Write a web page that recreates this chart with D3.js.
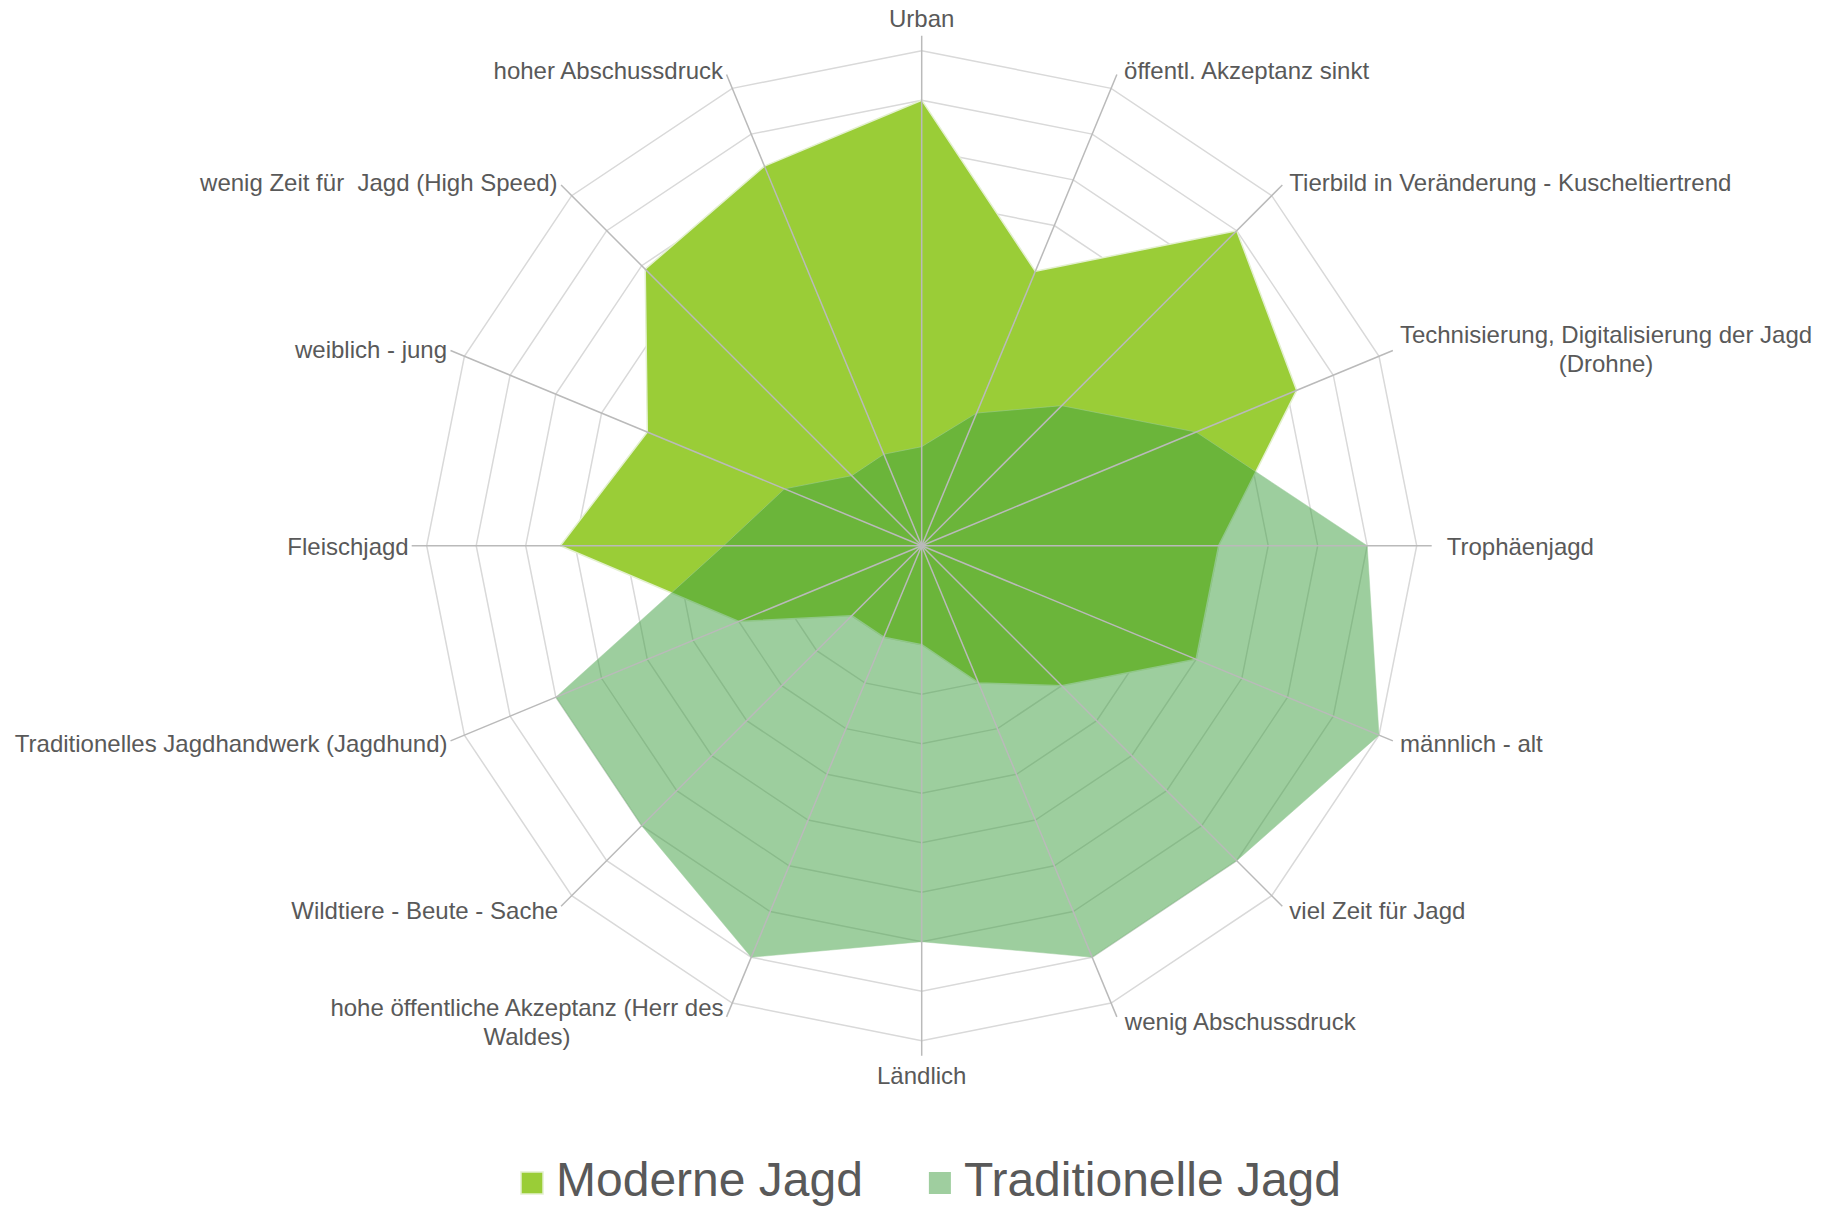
<!doctype html>
<html lang="de">
<head>
  <meta charset="utf-8">
  <title>Moderne vs. Traditionelle Jagd</title>
</head>
<style>
html, body, svg {
    margin: 0;
    padding: 0;
    border: 0;
    background: #fff;
}
text {
    font-family: "Liberation Sans", Arial, sans-serif;
    fill: #595959;
    white-space: pre;
}
</style>
<body>
  <svg></svg>
</body>
<script src="https://d3js.org/d3.v7.min.js"></script>
<script type="text/javascript">
    // axes, clockwise from the top
    var categories = [
      "Urban",
      "öffentl. Akzeptanz sinkt",
      "Tierbild in Veränderung - Kuscheltiertrend",
      "Technisierung, Digitalisierung der Jagd\n(Drohne)",
      "Trophäenjagd",
      "männlich - alt",
      "viel Zeit für Jagd",
      "wenig Abschussdruck",
      "Ländlich",
      "hohe öffentliche Akzeptanz (Herr des\nWaldes)",
      "Wildtiere - Beute - Sache",
      "Traditionelles Jagdhandwerk (Jagdhund)",
      "Fleischjagd",
      "weiblich - jung",
      "wenig Zeit für  Jagd (High Speed)",
      "hoher Abschussdruck"
    ];

    var moderne = [9, 6, 9, 8.2, 6, 6, 4, 3, 2, 2, 2, 4, 7.3, 6, 7.9, 8.3];
    var traditionelle = [2, 2.9, 4, 6, 9, 10, 9, 9, 8, 9, 8, 8, 4, 3, 2, 2];

    var seriesNames = ["Moderne Jagd", "Traditionelle Jagd"];
    var levels = d3.range(1, 11);

    var w = 1821, h = 1207;
    var cx = 921.7, cy = 545.7;
    var R = 495;

    var svg = d3.select("svg")
      .attr("width", w)
      .attr("height", h);

    var r = d3.scaleLinear().domain([0, 10]).range([0, R]);
    var angle = d3.scaleLinear()
      .domain([0, categories.length])
      .range([0, 2 * Math.PI]);

    var g = svg.append("g")
      .attr("transform", "translate(" + cx + "," + cy + ")");

    var radial = d3.lineRadial()
      .angle(function(d, i){ return angle(i); })
      .radius(function(d){ return r(d); })
      .curve(d3.curveLinearClosed);

    // grid rings
    g.selectAll("path.ring")
      .data(levels)
      .enter()
      .append("path")
      .attr("class", "ring")
      .attr("d", function(l){ return radial(categories.map(function(){ return l; })); })
      .attr("fill", "none")
      .attr("stroke", "#d9d9d9")
      .attr("stroke-width", 1.5);

    // series areas
    g.append("path")
      .attr("d", radial(moderne))
      .attr("fill", "#9acd37")
      .attr("stroke", "#e3f0cf")
      .attr("stroke-width", 1.5)
      .attr("stroke-linejoin", "round");

    g.append("path")
      .attr("d", radial(traditionelle))
      .attr("fill", "#3b9d3d")
      .attr("fill-opacity", 0.5)
      .attr("stroke", "#9fce9f")
      .attr("stroke-opacity", 0.5)
      .attr("stroke-width", 1);

    // spokes
    var spokeLen = R + 15;
    g.selectAll("line.spoke")
      .data(categories)
      .enter()
      .append("line")
      .attr("class", "spoke")
      .attr("x1", 0).attr("y1", 0)
      .attr("x2", function(d, i){ return d3.pointRadial(angle(i), spokeLen)[0]; })
      .attr("y2", function(d, i){ return d3.pointRadial(angle(i), spokeLen)[1]; })
      .attr("stroke", "#bababa")
      .attr("stroke-width", 1.5);

    // axis labels
    var lineH = 29;
    categories.forEach(function(c, i){
      var a = angle(i);
      var p = d3.pointRadial(a, spokeLen);
      var s = Math.sin(a), co = Math.cos(a);
      var lines = c.split("\n");
      var lg = g.append("g");
      var t = lg.append("text")
        .attr("font-size", 24)
        .attr("text-anchor", "middle")
        .attr("dominant-baseline", "central");
      lines.forEach(function(l, k){
        t.append("tspan")
          .attr("x", 0)
          .attr("y", (k - (lines.length - 1) / 2) * lineH)
          .text(l);
      });
      var bw = t.node().getBBox().width;
      var x, y;
      if (Math.abs(s) < 0.01) {
        x = 0;
        y = co > 0 ? p[1] - 18 : p[1] + 19;
      } else if (s > 0) {
        var gap = Math.abs(co) < 0.01 ? 15 : 7;
        x = p[0] + gap + bw / 2;
        y = p[1] - 5 * co;
      } else {
        x = p[0] - 3 - bw / 2;
        y = p[1] - 5 * co;
      }
      lg.attr("transform", "translate(" + x + "," + y + ")");
    });

    // legend
    var legendColors = ["#9acd37", "#9fce9f"];
    var legend = svg.append("g");
    var xCursor = 0;
    seriesNames.forEach(function(name, i){
      var item = legend.append("g").attr("transform", "translate(" + xCursor + ",0)");
      item.append("rect")
        .attr("x", 0).attr("y", -24)
        .attr("width", 22).attr("height", 22)
        .attr("fill", legendColors[i])
        .attr("stroke", i === 0 ? "#e3f0cf" : "none")
        .attr("stroke-width", 1.5);
      var tx = item.append("text")
        .attr("x", 35)
        .attr("y", 0)
        .attr("font-size", 48)
        .text(name);
      xCursor += 35 + tx.node().getComputedTextLength() + 66;
    });
    var lw = xCursor - 66;
    legend.attr("transform", "translate(" + (931 - lw / 2) + ",1196)");
</script>
</html>
